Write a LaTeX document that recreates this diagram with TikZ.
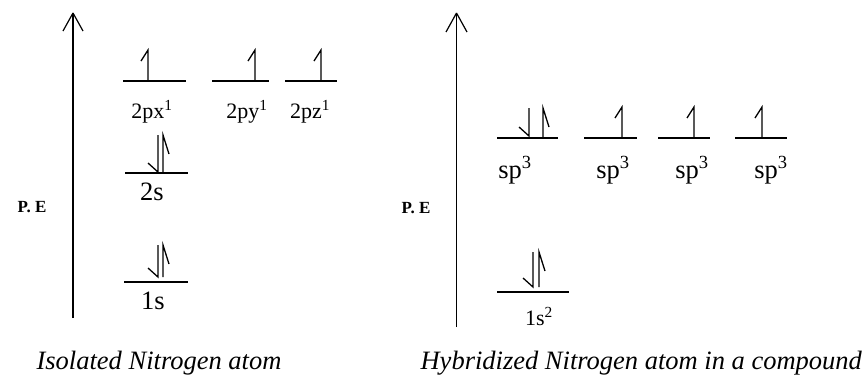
\documentclass[tikz,border=0pt]{standalone}
\usepackage{fontspec}
\setmainfont{Liberation Serif}
\begin{document}
\begin{tikzpicture}[x=1pt,y=-1pt,line width=1.2pt,
  lvl/.style={line width=1.2pt},
  axisline/.style={line width=1.2pt},
  hal/.style={line width=1.3pt,line join=miter},
  plab/.style={font=\fontsize{22}{24}\selectfont,anchor=base,inner sep=0pt},
  slab/.style={font=\fontsize{26.5}{28}\selectfont,anchor=base,inner sep=0pt},
  pe/.style={font=\fontsize{17}{19}\selectfont\bfseries,anchor=base east,inner sep=0pt},
  captext/.style={font=\fontsize{26.5}{30}\selectfont\itshape,anchor=base west,inner sep=0pt},
  pics/upL/.style={code={\draw[hal] (0,0) -- (0,-#1) -- ++(-7,11);}},
  pics/upR/.style={code={\draw[hal] (0,0) -- (0,-#1) -- ++(6,19);}},
  pics/dnL/.style={code={\draw[hal] (0,-#1) -- (0,0) -- ++(-10,-9);}}
]
\useasboundingbox (0,0) rectangle (865,378);
% axes
\coordinate (la0) at (73,318); \coordinate (la1) at (73,13);
\draw[axisline] (la0) -- (la1);
\draw[axisline] (la1) -- ++(-10,18); \draw[axisline] (la1) -- ++(10,18);
\coordinate (ra0) at (456.5,327); \coordinate (ra1) at (456.5,13);
\draw[axisline] (ra0) -- (ra1);
\draw[axisline] (ra1) -- ++(-10.5,19); \draw[axisline] (ra1) -- ++(10.5,19);
\node[pe] (pel) at (47,212) {P. E};
\node[pe] (per) at (431,213) {P. E};
% left: isolated N
\draw[lvl] (123,81) -- (186,81);
\draw[lvl] (212,81) -- (269,81);
\draw[lvl] (285,81) -- (337,81);
\pic at (148,80) {upL=30};
\pic at (255,80) {upL=30};
\pic at (321,80) {upL=30};
\node[plab] (px) at (152,118) {2px\textsuperscript{1}};
\node[plab] (py) at (247,118) {2py\textsuperscript{1}};
\node[plab] (pz) at (310,118) {2pz\textsuperscript{1}};
\draw[lvl] (125,173) -- (188,173);
\pic at (158,172) {dnL=37};
\pic at (163,172) {upR=37};
\node[slab] (s2) at (152,200) {2s};
\draw[lvl] (124,282) -- (188,282);
\pic at (158,277) {dnL=32};
\pic at (163,277) {upR=32};
\node[slab] (s1) at (153,309) {1s};
% right: hybridized N
\draw[lvl] (497,138) -- (558,138);
\draw[lvl] (584,138) -- (637,138);
\draw[lvl] (658,138) -- (710,138);
\draw[lvl] (735,138) -- (787,138);
\pic at (529,136) {dnL=28};
\pic at (543,137) {upR=29};
\pic at (622,137) {upL=30};
\pic at (694,137) {upL=30};
\pic at (762,137) {upL=30};
\node[slab] (h1) at (515,178) {sp\textsuperscript{3}};
\node[slab] (h2) at (613,178) {sp\textsuperscript{3}};
\node[slab] (h3) at (692,178) {sp\textsuperscript{3}};
\node[slab] (h4) at (771,178) {sp\textsuperscript{3}};
\draw[lvl] (497,292) -- (569,292);
\pic at (533,287) {dnL=35};
\pic at (539,287) {upR=35};
\node[plab] (s1h) at (539,325) {1s\textsuperscript{2}};
% captions
\node[captext] (c1) at (36,369) {Isolated Nitrogen atom};
\node[captext] (c2) at (420,369) {Hybridized Nitrogen atom in a compound};
\end{tikzpicture}
\end{document}
